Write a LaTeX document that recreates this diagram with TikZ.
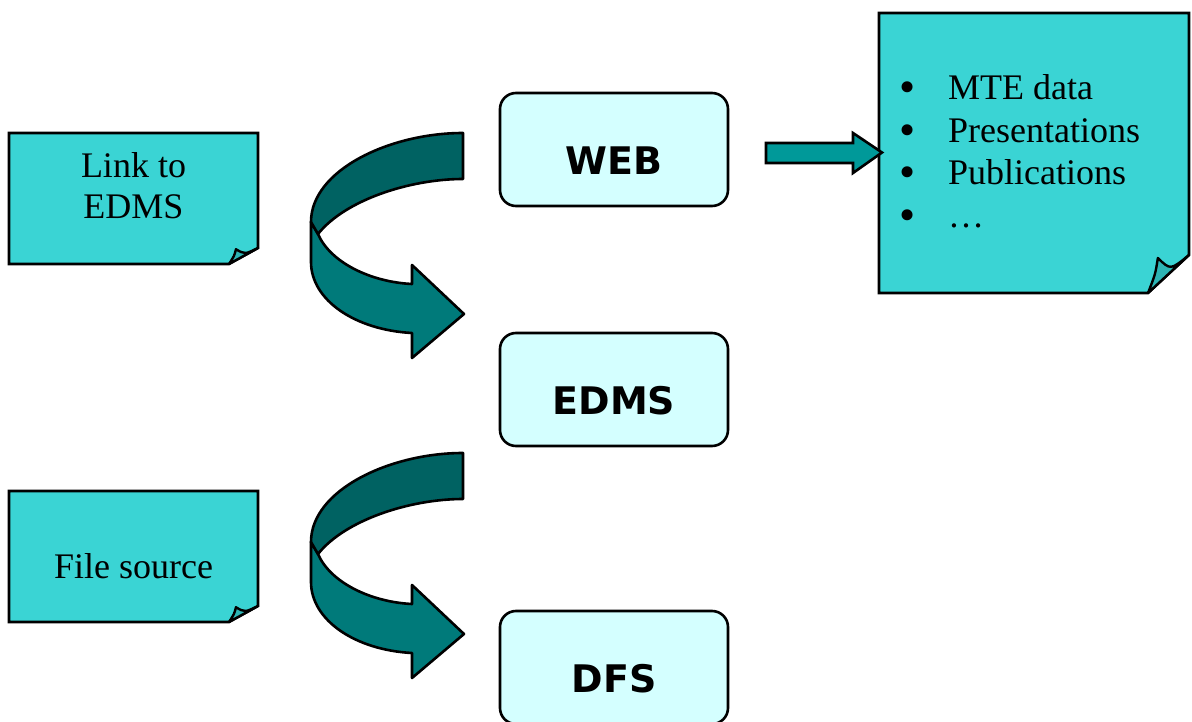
\documentclass[tikz,border=0pt]{standalone}
\usepackage{fontspec}
\setmainfont{Liberation Serif}
\newfontfamily\boxfont{DejaVu Sans}
\definecolor{notefill}{HTML}{3AD4D4}
\definecolor{flapfill}{HTML}{2DB4B4}
\definecolor{boxfill}{HTML}{D4FFFF}
\definecolor{ribbontop}{HTML}{006262}
\definecolor{ribbonfront}{HTML}{007A7A}
\definecolor{arrowfill}{HTML}{009999}
\tikzset{
  note/.style={fill=notefill,draw=black,line width=2.6pt,line join=miter},
  flap/.style={fill=flapfill,draw=black,line width=2.4pt,line join=round},
  stagebox/.style={draw=black,line width=2.6pt,fill=boxfill,rounded corners=16pt,
    minimum width=228pt,minimum height=113pt,text height=50pt,text depth=0pt,
    font=\boxfont\bfseries\fontsize{38}{45}\selectfont},
  notetext/.style={font=\fontsize{36}{41}\selectfont,align=center},
  ribbon/.style={draw=black,line width=2.6pt,line join=round},
  turnarrow/.pic={
    % front band with head
    \filldraw[ribbon,fill=ribbonfront] (311,222) -- (311,262) .. controls (311,300) and (355,330) .. (412,333)
      -- (412,358) -- (464,314) -- (412,265) -- (412,284) .. controls (370,282) and (330,262) .. (318,234) -- cycle;
    % back band
    \filldraw[ribbon,fill=ribbontop] (463,133) .. controls (390,133) and (311,170) .. (311,222)
      -- (318,234) .. controls (345,200) and (410,179) .. (463,179) -- cycle;
  }
}
% note with folded corner: x1,y1,x2,y2,dx,dy (y down)
\newcommand{\foldnote}[6]{%
  \filldraw[note] (#1,#2) -- (#3,#2) -- (#3,#4-#6) -- (#3-#5,#4) -- (#1,#4) -- cycle;
  \filldraw[flap] (#3-#5,#4) .. controls (#3-0.82*#5,#4-0.5*#6) .. (#3-0.76*#5,#4-0.92*#6)
    .. controls (#3-0.45*#5,#4-0.6*#6) .. (#3,#4-#6) -- cycle;
}
\begin{document}
\begin{tikzpicture}[x=1pt,y=-1pt]
\useasboundingbox (0,0) rectangle (1192,722);
\clip (0,0) rectangle (1192,722);
% sticky notes
\foldnote{9}{133}{258}{264}{29}{16}
\node[notetext] (linktxt) at (133.5,186) {Link to\\EDMS};
\foldnote{9}{491}{258}{622}{29}{16}
\node[notetext,anchor=base] (filetxt) at (133.5,578) {File source};
\foldnote{879}{13}{1189}{293}{41}{38}
\foreach \txt [count=\i] in {MTE data,Presentations,Publications,\ldots}{
  \node[font=\fontsize{46}{41}\selectfont,anchor=base] (bul\i) at (908,{60.6+42.4*\i}) {\textbullet};
  \node[font=\fontsize{36}{41}\selectfont,anchor=base west,inner sep=0pt] (item\i) at (948,{57.6+42.4*\i}) {\txt};
}
% storage stages
\node[stagebox] (web) at (614,149.5) {WEB};
\node[stagebox] (edms) at (614,389.5) {EDMS};
\node[stagebox] (dfs) at (614,667.5) {DFS};
% turning arrows
\pic at (0,0) {turnarrow};
\pic at (0,320) {turnarrow};
% WEB to content note
\filldraw[ribbon,fill=arrowfill,line join=miter] (766,143) -- (853,143) -- (853,133) -- (882,152.5)
  -- (853,173) -- (853,163) -- (766,163) -- cycle;
\end{tikzpicture}
\end{document}
